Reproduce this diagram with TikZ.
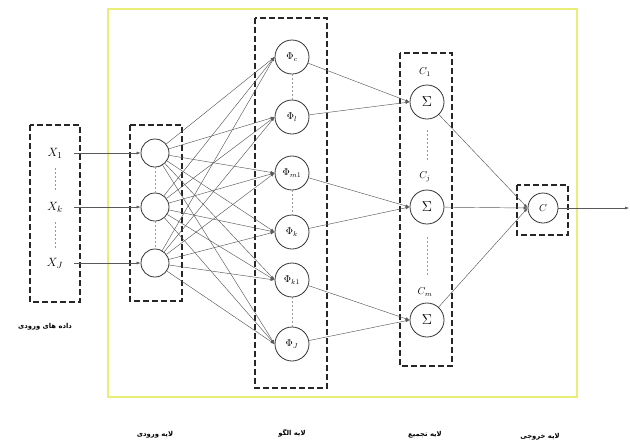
\documentclass[tikz,border=0pt]{standalone}
\usepackage{fontspec}
\usetikzlibrary{arrows.meta}
\newfontfamily\fa[Script=Arabic]{DejaVu Sans}
\TeXXeTstate=1
\definecolor{frameyellow}{RGB}{232,238,120}
\begin{document}
\begin{tikzpicture}[x=1pt,y=-1pt,
  neuron/.style={circle,draw=black!80,line width=0.8pt,inner sep=0pt,minimum size=#1},
  neuron/.default=28pt,
  layerbox/.style={draw=black!85,line width=1.5pt,dash pattern=on 6pt off 3pt},
  link/.style={draw=black!65,line width=0.45pt,-{Latex[length=4pt,width=3pt]}},
  vdots/.style={draw=black!40,line width=0.6pt,dash pattern=on 1.5pt off 2.5pt},
  fatext/.style={font=\fa\fontsize{6.8}{7}\selectfont\bfseries},
  lbl/.style={font=\fontsize{13}{13}\selectfont},
  plbl/.style={font=\fontsize{10}{10}\selectfont},
]
\useasboundingbox (0,0) rectangle (630,445);

% outer frame
\draw[frameyellow,line width=2.5pt] (108,9) rectangle (577,397);

% layer boxes
\draw[layerbox] (30,125) rectangle (80,302);
\draw[layerbox] (130,125) rectangle (182,301);
\draw[layerbox] (255,18) rectangle (327,388);
\draw[layerbox] (400,53) rectangle (452,366);
\draw[layerbox] (517,185) rectangle (568,235);

% input data
\node[lbl] (x1) at (55,153) {$X_1$};
\node[lbl] (x2) at (55,207) {$X_k$};
\node[lbl] (x3) at (55,263) {$X_J$};
\draw[vdots] (55,168) -- (55,192);
\draw[vdots] (55,222) -- (55,248);
\coordinate (x1e) at (74,153);
\coordinate (x2e) at (74,207);
\coordinate (x3e) at (74,263);

% input layer
\node[neuron] (i1) at (155,153) {};
\node[neuron] (i2) at (155,207) {};
\node[neuron] (i3) at (155,263) {};
\draw[vdots] (i1.south) -- (i2.north);
\draw[vdots] (i2.south) -- (i3.north);

% pattern layer
\node[neuron=34pt,plbl] (p1) at (292,57)  {$\Phi_c$};
\node[neuron=34pt,plbl] (p2) at (292,117) {$\Phi_l$};
\node[neuron=34pt,plbl] (p3) at (292,173) {$\Phi_{m1}$};
\node[neuron=34pt,plbl] (p4) at (292,232) {$\Phi_k$};
\node[neuron=34pt,plbl] (p5) at (292,280) {$\Phi_{k1}$};
\node[neuron=34pt,plbl] (p6) at (292,344) {$\Phi_J$};
\draw[vdots] (p1.south) -- (p2.north);
\draw[vdots] (p3.south) -- (p4.north);
\draw[vdots] (p5.south) -- (p6.north);

% summation layer
\node[neuron=34pt,font=\fontsize{15}{15}\selectfont] (s1) at (427,102) {$\Sigma$};
\node[neuron=34pt,font=\fontsize{15}{15}\selectfont] (s2) at (427,207) {$\Sigma$};
\node[neuron=34pt,font=\fontsize{15}{15}\selectfont] (s3) at (427,320) {$\Sigma$};
\node[plbl] (c1) at (425,72)  {$C_1$};
\node[plbl] (c2) at (425,177) {$C_j$};
\node[plbl] (c3) at (425,292) {$C_m$};
\draw[vdots] (427,130) -- (427,160);
\draw[vdots] (427,237) -- (427,275);

% output layer
\node[neuron=30pt,plbl] (o) at (543,208) {$C$};
\coordinate (out) at (629,208);

% connections
\foreach \x/\i in {x1e/i1,x2e/i2,x3e/i3}
  \draw[link] (\x) -- (\i.west);
\foreach \i in {i1,i2,i3}
  \foreach \p in {p1,p2,p3,p4,p5,p6}
    \draw[link] (\i) -- (\p.west);
\foreach \p/\s in {p1/s1,p2/s1,p3/s2,p4/s2,p5/s3,p6/s3}
  \draw[link] (\p) -- (\s.west);
\foreach \s in {s1,s2,s3}
  \draw[link] (\s) -- (o.west);
\draw[link] (o.east) -- (out);

% captions
\node[fatext] (t0) at (45,327) {\beginR داده های ورودی\endR};
\node[fatext] (t1) at (155,435) {\beginR لایه ورودی\endR};
\node[fatext] (t2) at (292,433) {\beginR لایه الگو\endR};
\node[fatext] (t3) at (425,435) {\beginR لایه تجمیع\endR};
\node[fatext] (t4) at (540,437) {\beginR لایه خروجی\endR};
\end{tikzpicture}
\end{document}
